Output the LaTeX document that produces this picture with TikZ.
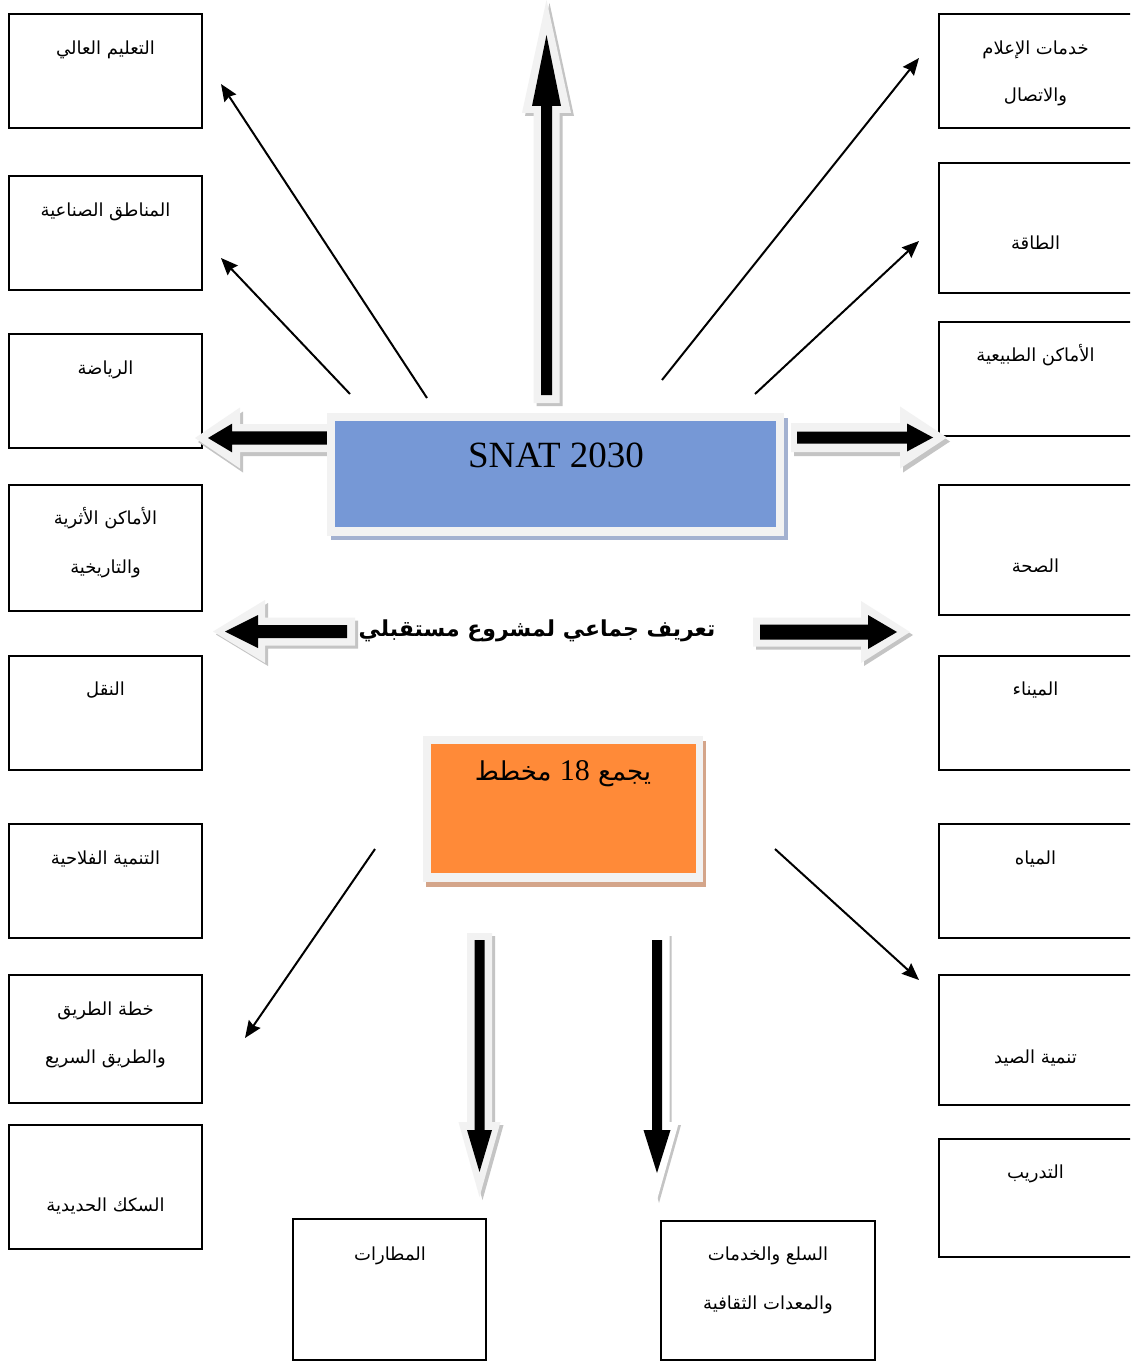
\documentclass[tikz,border=0pt]{standalone}
\usepackage{fontspec}
\setmainfont{Liberation Serif}
\newfontfamily\arabicfont[Script=Arabic]{DejaVu Sans}
\TeXXeTstate=1
\usetikzlibrary{arrows.meta}

\definecolor{lightrim}{HTML}{F2F2F2}
\definecolor{rimshadow}{HTML}{C4C4C4}
\definecolor{snatblue}{HTML}{7698D6}
\definecolor{blueshadow}{HTML}{A3B1D0}
\definecolor{planorange}{HTML}{FF8A38}
\definecolor{orangeshadow}{HTML}{D4A58A}

\newcommand\rtl[1]{\beginR#1\endR}

% block arrow: black arrow inside a light rim, with a grey drop shadow
\pgfkeys{/fat/.cd,
  L/.initial=100, k/.initial=25, s/.initial=6, h/.initial=14,
  mt/.initial=7, S/.initial=13, d/.initial=7, H/.initial=28, e/.initial=14,
  rim/.initial=lightrim, sx/.initial=3, sy/.initial=3}
\newcommand\fatarrow[3]{% #1 tail point, #2 direction angle, #3 sizes
  \begingroup
  \pgfkeys{/fat/.cd,#3}%
  \pgfmathsetmacro\faL{\pgfkeysvalueof{/fat/L}}%
  \pgfmathsetmacro\faK{\pgfkeysvalueof{/fat/k}}%
  \pgfmathsetmacro\fas{\pgfkeysvalueof{/fat/s}}%
  \pgfmathsetmacro\fah{\pgfkeysvalueof{/fat/h}}%
  \pgfmathsetmacro\faMt{\pgfkeysvalueof{/fat/mt}}%
  \pgfmathsetmacro\faS{\pgfkeysvalueof{/fat/S}}%
  \pgfmathsetmacro\faH{\pgfkeysvalueof{/fat/H}}%
  \pgfmathsetmacro\faBase{\faL-\faK}%
  \pgfmathsetmacro\faRimBase{\faL-\faK-\pgfkeysvalueof{/fat/d}}%
  \pgfmathsetmacro\faTip{\faL+\pgfkeysvalueof{/fat/e}}%
  \def\farim{(-\faMt,-\faS) -- (\faRimBase,-\faS) -- (\faRimBase,-\faH) -- (\faTip,0)
    -- (\faRimBase,\faH) -- (\faRimBase,\faS) -- (-\faMt,\faS) -- cycle}%
  \begin{scope}[shift={#1}, shift={(\pgfkeysvalueof{/fat/sx},\pgfkeysvalueof{/fat/sy})}, rotate=#2]
    \fill[rimshadow] \farim;
  \end{scope}
  \begin{scope}[shift={#1}, rotate=#2]
    \fill[\pgfkeysvalueof{/fat/rim}] \farim;
    \fill[black] (0,-\fas) -- (\faBase,-\fas) -- (\faBase,-\fah) -- (\faL,0)
      -- (\faBase,\fah) -- (\faBase,\fas) -- (0,\fas) -- cycle;
  \end{scope}
  \endgroup}

\begin{document}
\begin{tikzpicture}[x=1pt,y=-1pt,
  box/.style={draw=black, line width=2pt, minimum width=193pt, inner sep=0pt},
  lbl/.style={font=\arabicfont\fontsize{18}{22}\selectfont, inner sep=0pt, anchor=mid, yshift=-4pt},
  thinarrow/.style={line width=2pt, -{Stealth[length=17pt,width=14pt,inset=2pt]}},
]
\useasboundingbox (0,0) rectangle (1130,1362);
\clip (0,0) rectangle (1130,1362);
\fill[white] (0,0) rectangle (1130,1362);

% ---- left column
\node[box, minimum height=114pt] (b1) at (105.5,71) {};
\node[lbl] (b1t) at (105.5,48) {\rtl{التعليم العالي}};
\node[box, minimum height=114pt] (b2) at (105.5,233) {};
\node[lbl] (b2t) at (105.5,210) {\rtl{المناطق الصناعية}};
\node[box, minimum height=114pt] (b3) at (105.5,391) {};
\node[lbl] (b3t) at (105.5,368) {\rtl{الرياضة}};
\node[box, minimum height=126pt] (b4) at (105.5,548) {};
\node[lbl] (b4t) at (105.5,518) {\rtl{الأماكن الأثرية}};
\node[lbl] (b4u) at (105.5,567) {\rtl{والتاريخية}};
\node[box, minimum height=114pt] (b5) at (105.5,713) {};
\node[lbl] (b5t) at (105.5,689) {\rtl{النقل}};
\node[box, minimum height=114pt] (b6) at (105.5,881) {};
\node[lbl] (b6t) at (105.5,858) {\rtl{التنمية الفلاحية}};
\node[box, minimum height=128pt] (b7) at (105.5,1039) {};
\node[lbl] (b7t) at (105.5,1009) {\rtl{خطة الطريق}};
\node[lbl] (b7u) at (105.5,1057) {\rtl{والطريق السريع}};
\node[box, minimum height=124pt] (b8) at (105.5,1187) {};
\node[lbl] (b8t) at (105.5,1205) {\rtl{السكك الحديدية}};

% ---- right column
\node[box, minimum height=114pt] (r1) at (1035.5,71) {};
\node[lbl] (r1t) at (1035.5,48) {\rtl{خدمات الإعلام}};
\node[lbl] (r1u) at (1035.5,95) {\rtl{والاتصال}};
\node[box, minimum height=130pt] (r2) at (1035.5,228) {};
\node[lbl] (r2t) at (1035.5,243) {\rtl{الطاقة}};
\node[box, minimum height=114pt] (r3) at (1035.5,379) {};
\node[lbl] (r3t) at (1035.5,355) {\rtl{الأماكن الطبيعية}};
\node[box, minimum height=130pt] (r4) at (1035.5,550) {};
\node[lbl] (r4t) at (1035.5,566) {\rtl{الصحة}};
\node[box, minimum height=114pt] (r5) at (1035.5,713) {};
\node[lbl] (r5t) at (1035.5,689) {\rtl{الميناء}};
\node[box, minimum height=114pt] (r6) at (1035.5,881) {};
\node[lbl] (r6t) at (1035.5,858) {\rtl{المياه}};
\node[box, minimum height=130pt] (r7) at (1035.5,1040) {};
\node[lbl] (r7t) at (1035.5,1057) {\rtl{تنمية الصيد}};
\node[box, minimum height=118pt] (r8) at (1035.5,1198) {};
\node[lbl] (r8t) at (1035.5,1172) {\rtl{التدريب}};

% ---- bottom row
\node[box, minimum height=141pt] (m1) at (389.5,1289.5) {};
\node[lbl] (m1t) at (390,1254) {\rtl{المطارات}};
\node[box, minimum width=214pt, minimum height=139pt] (m2) at (768,1290.5) {};
\node[lbl] (m2t) at (768,1254) {\rtl{السلع والخدمات}};
\node[lbl] (m2u) at (768,1303) {\rtl{والمعدات الثقافية}};

% ---- block arrows
\fatarrow{(546.5,395)}{90}{L=360,k=71,s=5.5,h=14.5,mt=8,S=13,d=7,H=24.5,e=35}
\fatarrow{(330,438)}{180}{L=122,k=24,s=6.7,h=14.3,mt=6,S=14,d=8,H=30.5,e=13,sy=4}
\fatarrow{(797,437.5)}{0}{L=136,k=26,s=6,h=14,mt=6,S=14.5,d=7,H=31,e=14,sy=4}
\fatarrow{(347,631.5)}{180}{L=122,k=33,s=6.5,h=16.5,mt=8,S=14,d=7,H=31.5,e=12}
\fatarrow{(760,632)}{0}{L=137,k=29,s=7.5,h=17,mt=7,S=14.5,d=7,H=31,e=13}
\fatarrow{(479.5,940)}{-90}{L=232,k=42,s=5,h=12.5,mt=7,S=12.5,d=8,H=21,e=25}
\fatarrow{(657,940)}{-90}{L=233,k=43,s=5,h=13.5,mt=7,S=12.5,d=8,H=22,e=27,rim=white,sx=2}

% ---- SNAT box
\fill[blueshadow] (331,418) rectangle (788,540);
\fill[lightrim] (327,413) rectangle (784,536);
\node[fill=snatblue, minimum width=441pt, minimum height=106pt, inner sep=0pt] (snat) at (555.5,474) {};
\node[font=\fontsize{37}{40}\selectfont, inner sep=0pt, anchor=base] (snatt) at (556,467) {SNAT 2030};

% ---- title
\node[font=\arabicfont\bfseries\fontsize{22}{26}\selectfont, inner sep=0pt, anchor=mid] (title) at (537,634) {\rtl{تعريف جماعي لمشروع مستقبلي}};

% ---- plans box
\fill[orangeshadow] (426,741) rectangle (706,887);
\fill[lightrim] (423,736) rectangle (703,882);
\node[fill=planorange, minimum width=265pt, minimum height=129pt, inner sep=0pt] (plans) at (563.5,808.5) {};
\node[font=\arabicfont\fontsize{26}{30}\selectfont, inner sep=0pt, anchor=mid] (planst) at (563,778) {\rtl{يجمع \beginL{\rmfamily\fontsize{30}{30}\selectfont 18}\endL{} مخطط}};

% ---- thin arrows
\coordinate (s1) at (427,398); \coordinate (e1) at (221,84);
\coordinate (s2) at (350,394); \coordinate (e2) at (221,258);
\coordinate (s3) at (662,380); \coordinate (e3) at (919,58);
\coordinate (s4) at (755,394); \coordinate (e4) at (919,241);
\coordinate (s5) at (375,849); \coordinate (e5) at (245,1038);
\coordinate (s6) at (775,849); \coordinate (e6) at (919,980);
\foreach \i in {1,...,6} \draw[thinarrow] (s\i) -- (e\i);
\end{tikzpicture}
\end{document}
